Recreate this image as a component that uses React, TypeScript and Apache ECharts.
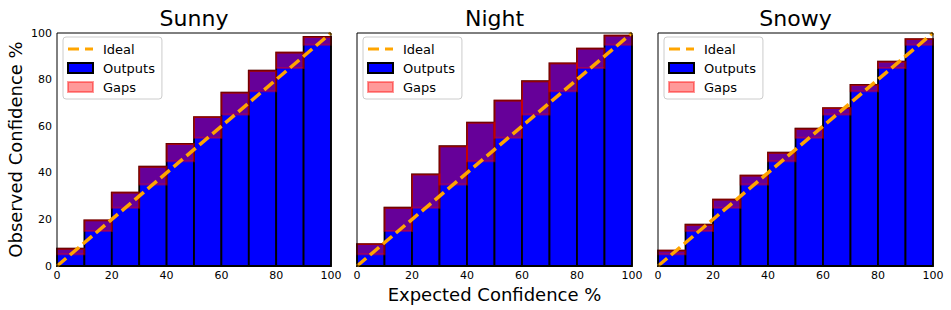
import React, { useEffect, useRef } from "react";
import * as echarts from "echarts";

const panelTitles = ["Sunny", "Night", "Snowy"];
const binLow = [0, 10, 20, 30, 40, 50, 60, 70, 80, 90];
const binHigh = [10, 20, 30, 40, 50, 60, 70, 80, 90, 100];
const expected = [5, 15, 25, 35, 45, 55, 65, 75, 85, 95];
const sunnyObserved = [7.4, 19.6, 31.5, 42.6, 52.4, 63.9, 74.4, 83.8, 91.6, 98.3];
const nightObserved = [9.4, 25.0, 39.3, 51.4, 61.5, 71.0, 79.3, 87.0, 93.3, 98.9];
const snowyObserved = [6.6, 17.7, 28.5, 38.8, 48.6, 58.9, 67.8, 77.7, 87.7, 97.4];
const idealLine = [[0, 0], [100, 100]];

const observedSets = [sunnyObserved, nightObserved, snowyObserved];

const FONT = "DejaVu Sans";

const gridBoxes = [
  { left: 57, width: 274 },
  { left: 357, width: 275 },
  { left: 658, width: 275 },
];
const GRID_TOP = 33;
const GRID_H = 233;

function rectRender(fill: string, stroke: string, lw: number) {
  return (params: any, api: any) => {
    const x0 = api.value(0);
    const x1 = api.value(1);
    const y0 = api.value(2);
    const y1 = api.value(3);
    const p0 = api.coord([x0, Math.max(y0, y1)]);
    const p1 = api.coord([x1, Math.min(y0, y1)]);
    return {
      type: "rect",
      shape: { x: p0[0], y: p0[1], width: p1[0] - p0[0], height: p1[1] - p0[1] },
      style: { fill, stroke, lineWidth: lw },
    };
  };
}

export default function App() {
  const ref = useRef<HTMLDivElement>(null);
  useEffect(() => {
    if (!ref.current) return;
    const chart = echarts.init(ref.current, undefined, { renderer: "svg" });

    const grids: any[] = [];
    const xAxes: any[] = [];
    const yAxes: any[] = [];
    const series: any[] = [];
    const titles: any[] = [];
    const legends: any[] = [];

    panelTitles.forEach((t, i) => {
      const g = gridBoxes[i];
      grids.push({
        left: g.left,
        top: GRID_TOP,
        width: g.width,
        height: GRID_H,
        show: true,
        borderColor: "#000",
        borderWidth: 1,
        backgroundColor: "transparent",
        z: 10,
      });
      xAxes.push({
        type: "value",
        gridIndex: i,
        min: 0,
        max: 100,
        interval: 20,
        axisLine: { show: false },
        axisTick: { show: false },
        splitLine: { show: false },
        axisLabel: {
          show: true,
          color: "#000",
          fontFamily: FONT,
          fontSize: 11,
          margin: 4,
          showMinLabel: true,
          showMaxLabel: true,
        },
        name: i === 1 ? "Expected Confidence %" : "",
        nameLocation: "middle",
        nameGap: 17,
        nameTextStyle: { fontFamily: FONT, fontSize: 18, color: "#000", verticalAlign: "top" },
      });
      yAxes.push({
        type: "value",
        gridIndex: i,
        min: 0,
        max: 100,
        interval: 20,
        axisLine: { show: false },
        axisTick: { show: false },
        splitLine: { show: false },
        axisLabel: {
          show: i === 0,
          color: "#000",
          fontFamily: FONT,
          fontSize: 11,
          margin: 5,
        },
        name: i === 0 ? "Observed Confidence %" : "",
        nameLocation: "middle",
        nameGap: 33,
        nameRotate: 90,
        nameTextStyle: { fontFamily: FONT, fontSize: 18, color: "#000" },
      });

      const obs = observedSets[i];
      const outputsData = binLow.map((b, k) => [b, binHigh[k], 0, obs[k]]);
      const gapsData = binLow.map((b, k) => [b, binHigh[k], expected[k], obs[k]]);

      series.push({
        type: "custom",
        name: "Outputs",
        xAxisIndex: i,
        yAxisIndex: i,
        data: outputsData,
        encode: { x: [0, 1], y: [2, 3] },
        renderItem: rectRender("#0000ff", "#000000", 1.8),
        itemStyle: { color: "#0000ff" },
        z: 2,
        silent: true,
      });
      series.push({
        type: "custom",
        name: "Gaps",
        xAxisIndex: i,
        yAxisIndex: i,
        data: gapsData,
        encode: { x: [0, 1], y: [2, 3] },
        renderItem: rectRender("rgba(255,0,0,0.4)", "rgba(255,0,0,0.4)", 2),
        itemStyle: { color: "rgba(255,0,0,0.4)" },
        z: 3,
        silent: true,
      });
      series.push({
        type: "line",
        name: "Ideal",
        xAxisIndex: i,
        yAxisIndex: i,
        data: idealLine,
        symbol: "none",
        clip: false,
        lineStyle: { color: "#ffa500", width: 3.5, type: [12, 5] },
        itemStyle: { color: "#ffa500" },
        z: 4,
        silent: true,
      });

      titles.push({
        text: t,
        left: g.left + g.width / 2,
        top: 7,
        padding: 0,
        textAlign: "center",
        textStyle: { fontFamily: FONT, fontSize: 22, fontWeight: "normal", color: "#000" },
      });

      legends.push({
        left: g.left + 6,
        top: 37,
        orient: "vertical",
        padding: [5, 7, 5, 4],
        itemGap: 5,
        itemWidth: 25,
        itemHeight: 10,
        backgroundColor: "rgba(255,255,255,0.8)",
        borderColor: "#cccccc",
        borderWidth: 1,
        borderRadius: 3,
        selectedMode: false,
        textStyle: {
          fontFamily: FONT,
          fontSize: 13,
          color: "#000",
          padding: [0, 0, 0, 5],
          lineHeight: 14,
          height: 14,
        },
        data: [
          {
            name: "Ideal",
            icon: "path://M0,3.5 L11,3.5 L11,6.5 L0,6.5 Z M17,3.5 L25,3.5 L25,6.5 L17,6.5 Z",
            itemStyle: { color: "#ffa500", borderWidth: 0 },
          },
          {
            name: "Outputs",
            icon: "rect",
            itemStyle: { color: "#0000ff", borderColor: "#000000", borderWidth: 2 },
          },
          {
            name: "Gaps",
            icon: "rect",
            itemStyle: { color: "rgba(255,0,0,0.4)", borderColor: "rgba(255,0,0,0.4)", borderWidth: 2 },
          },
        ],
        z: 20,
      });
    });

    chart.setOption({
      animation: false,
      backgroundColor: "#ffffff",
      title: titles,
      legend: legends,
      grid: grids,
      xAxis: xAxes,
      yAxis: yAxes,
      series,
    });
    return () => chart.dispose();
  }, []);

  return (
    <div
      ref={ref}
      style={{ position: "fixed", left: 0, top: 0, width: 951, height: 310 }}
    />
  );
}
